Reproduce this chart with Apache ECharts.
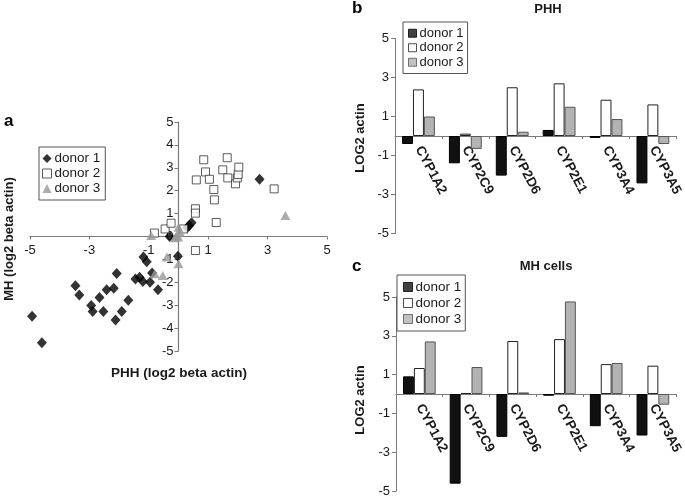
<!DOCTYPE html>
<html><head><meta charset="utf-8">
<script src="https://cdn.jsdelivr.net/npm/echarts@6/dist/echarts.min.js"></script>
<style>html,body{margin:0;padding:0;background:#fff}#c{width:685px;height:498px}</style>
</head><body><div id="c"></div>
<script>
// ---- Panel a: scatter (PHH vs MH, log2 beta actin) ----
const donor1X = [-4.93,-4.6,-3.47,-3.34,-2.94,-2.89,-2.66,-2.53,-2.42,-2.18,-2.08,-2.12,-1.91,-1.69,-1.45,-1.31,-1.2,-1.18,-1.07,-0.96,-0.89,-0.69,-0.3,-0.02,0.29,0.36,0.44,2.73];
const donor1Y = [-3.48,-4.64,-2.15,-2.55,-3.01,-3.28,-2.66,-3.28,-2.33,-2.26,-1.62,-3.65,-3.28,-2.78,-1.86,-1.78,-1.97,-0.9,-1.1,-2.0,-1.59,-2.33,0.0,-0.86,0.38,0.48,0.6,2.5];
const donor2X = [-0.81,-0.45,-0.25,0.17,0.57,0.57,0.57,0.6,0.85,0.91,1.04,1.19,1.21,1.27,1.49,1.64,1.66,1.92,1.98,2.01,2.03,3.22];
const donor2Y = [0.15,0.33,0.58,0.33,-0.61,1.21,1.02,2.47,3.35,2.82,2.5,2.05,1.6,0.61,2.91,3.44,2.56,2.3,2.56,2.71,3.03,2.08];
const donor3X = [-0.92,-0.39,-0.8,-0.53,0.0,-0.12,-0.06,-0.01,0.05,0.0,3.6];
const donor3Y = [0.04,-0.9,-1.63,-1.7,-1.19,-0.05,0.05,-0.02,0.2,0.4,0.92];
const scatterXTicks = [-5,-3,-1,1,3,5];
const scatterYTicks = [-5,-4,-3,-2,-1,0,1,2,3,4,5];

// ---- Panels b, c: bars ----
const genes = ['CYP1A2','CYP2C9','CYP2D6','CYP2E1','CYP3A4','CYP3A5'];
const phhDonor1 = [-0.41,-1.4,-2.03,0.31,-0.1,-2.43];
const phhDonor2 = [2.39,0.12,2.5,2.7,1.86,1.62];
const phhDonor3 = [1.0,-0.66,0.22,1.5,0.87,-0.41];
const mhDonor1 = [0.91,-4.62,-2.21,-0.09,-1.66,-2.14];
const mhDonor2 = [1.34,0.05,2.73,2.83,1.54,1.46];
const mhDonor3 = [2.71,1.39,0.08,4.77,1.6,-0.55];
const barTicks = [-5,-3,-1,1,3,5];
const donorNames = ['donor 1','donor 2','donor 3'];

const FONT = 'Liberation Sans, Arial, sans-serif';
const AXIS = '#7a7a7a';
const TXT = '#1a1a1a';

const G0 = {left:30, top:122, width:297, height:229};
const G1 = {left:395, top:38.5, width:283, height:195};
const G2 = {left:396, top:297, width:282, height:194};

function zip(xs, ys){ return xs.map((x,i)=>[x, ys[i]]); }

const chart = echarts.init(document.getElementById('c'), null, {renderer:'canvas'});

const barStyles = [
  {color:'#111', borderColor:'#000', borderWidth:1},
  {color:'#fff', borderColor:'#222', borderWidth:1},
  {color:'#b3b3b3', borderColor:'#555', borderWidth:1}
];

function valueYAxis(gi){
  return {
    type:'value', gridIndex:gi, min:barTicks[0], max:barTicks[barTicks.length-1], interval:2,
    axisLine:{show:true, onZero:false, lineStyle:{color:AXIS, width:1}},
    axisTick:{show:true, length:4, lineStyle:{color:AXIS}},
    axisLabel:{color:TXT, fontSize:13, fontFamily:FONT, margin:6},
    splitLine:{show:false}
  };
}
function catXAxis(gi, g){
  return {
    type:'category', gridIndex:gi, data:genes, position:'bottom', offset:-g.height/2,
    axisLine:{show:true, onZero:false, lineStyle:{color:AXIS, width:1}},
    axisTick:{show:true, length:3, lineStyle:{color:AXIS}},
    axisLabel:{color:TXT, fontSize:13.5, fontWeight:'bold', fontFamily:FONT, rotate:-62, margin:11, interval:0},
    splitLine:{show:false}
  };
}

const option = {
  animation:false,
  backgroundColor:'#fff',
  textStyle:{fontFamily:FONT},
  grid:[
    Object.assign({containLabel:false}, G0),
    Object.assign({containLabel:false}, G1),
    Object.assign({containLabel:false}, G2)
  ],
  xAxis:[
    {type:'value', gridIndex:0, min:scatterXTicks[0], max:scatterXTicks[scatterXTicks.length-1], interval:2,
     position:'bottom', offset:-G0.height/2,
     axisLine:{show:true, onZero:false, lineStyle:{color:AXIS, width:1.2}},
     axisTick:{show:true, length:3, lineStyle:{color:AXIS}},
     axisLabel:{color:TXT, fontSize:13, fontFamily:FONT, margin:7},
     splitLine:{show:false}},
    catXAxis(1, G1), catXAxis(2, G2)
  ],
  yAxis:[
    {type:'value', gridIndex:0, min:scatterYTicks[0], max:scatterYTicks[scatterYTicks.length-1], interval:1,
     position:'left', offset:-G0.width/2,
     axisLine:{show:true, onZero:false, lineStyle:{color:AXIS, width:1.2}},
     axisTick:{show:true, length:4, lineStyle:{color:AXIS}},
     axisLabel:{color:TXT, fontSize:13, fontFamily:FONT, margin:5},
     splitLine:{show:false}},
    valueYAxis(1), valueYAxis(2)
  ],
  legend:[
    {left:39, top:147, orient:'vertical', itemGap:0, itemWidth:9, itemHeight:9, padding:[4,5,4,3],
     borderColor:'#555', borderWidth:1, backgroundColor:'#fff',
     textStyle:{fontSize:13.5, color:TXT, fontFamily:FONT, lineHeight:15, padding:[0,0,0,-2]},
     data:[
       {name:'donor 1', icon:'diamond', itemStyle:{color:'#000', borderWidth:0}},
       {name:'donor 2', icon:'rect', itemStyle:{color:'#fff', borderColor:'#333', borderWidth:1}},
       {name:'donor 3', icon:'triangle', itemStyle:{color:'#999', borderWidth:0}}
     ]},
    {left:403, top:22, orient:'vertical', itemGap:0, itemWidth:8, itemHeight:8, padding:[4,4,4,5],
     borderColor:'#555', borderWidth:1, backgroundColor:'#fff',
     textStyle:{fontSize:13, color:TXT, fontFamily:FONT, lineHeight:14.5, padding:[0,0,0,-2]},
     data:donorNames.map((n,i)=>({name:n, icon:'rect', itemStyle:Object.assign({}, barStyles[i])}))},
    {left:397, top:275, orient:'vertical', itemGap:0, itemWidth:9, itemHeight:9, padding:[4,4,4,6],
     borderColor:'#555', borderWidth:1, backgroundColor:'#fff',
     textStyle:{fontSize:13.5, color:TXT, fontFamily:FONT, lineHeight:16, padding:[0,0,0,-2]},
     data:donorNames.map((n,i)=>({name:n, icon:'rect', itemStyle:Object.assign({}, barStyles[i])}))}
  ],
  graphic:[
    {type:'text', left:4, top:113, style:{text:'a', font:'bold 17px '+FONT, fill:'#000'}},
    {type:'text', left:352, top:0, style:{text:'b', font:'bold 17px '+FONT, fill:'#000'}},
    {type:'text', left:352, top:258, style:{text:'c', font:'bold 17px '+FONT, fill:'#000'}},
    {type:'text', x:548, y:9, style:{text:'PHH', font:'bold 13px '+FONT, fill:TXT, align:'center', verticalAlign:'middle'}},
    {type:'text', x:546, y:266, style:{text:'MH cells', font:'bold 13px '+FONT, fill:TXT, align:'center', verticalAlign:'middle'}},
    {type:'text', x:179, y:373, style:{text:'PHH (log2 beta actin)', font:'bold 13.5px '+FONT, fill:TXT, align:'center', verticalAlign:'middle'}},
    {type:'text', x:9, y:239, rotation:Math.PI/2, style:{text:'MH (log2 beta actin)', font:'bold 13px '+FONT, fill:TXT, align:'center', verticalAlign:'middle'}},
    {type:'text', x:360, y:138, rotation:Math.PI/2, style:{text:'LOG2 actin', font:'bold 13px '+FONT, fill:TXT, align:'center', verticalAlign:'middle'}},
    {type:'text', x:360, y:400, rotation:Math.PI/2, style:{text:'LOG2 actin', font:'bold 13px '+FONT, fill:TXT, align:'center', verticalAlign:'middle'}}
  ],
  series:[
    {name:'donor 1', type:'scatter', xAxisIndex:0, yAxisIndex:0, symbol:'diamond', symbolSize:[10,11],
     itemStyle:{color:'#000'}, data:zip(donor1X, donor1Y)},
    {name:'donor 2', type:'scatter', xAxisIndex:0, yAxisIndex:0, symbol:'rect', symbolSize:8,
     itemStyle:{color:'#fff', borderColor:'#333', borderWidth:1}, data:zip(donor2X, donor2Y)},
    {name:'donor 3', type:'scatter', xAxisIndex:0, yAxisIndex:0, symbol:'triangle', symbolSize:[10,9],
     itemStyle:{color:'#999'}, data:zip(donor3X, donor3Y)},

    {name:'donor 1', type:'bar', xAxisIndex:1, yAxisIndex:1, barGap:'0%', barCategoryGap:'30%', itemStyle:barStyles[0], data:phhDonor1},
    {name:'donor 2', type:'bar', xAxisIndex:1, yAxisIndex:1, barGap:'0%', barCategoryGap:'30%', itemStyle:barStyles[1], data:phhDonor2},
    {name:'donor 3', type:'bar', xAxisIndex:1, yAxisIndex:1, barGap:'0%', barCategoryGap:'30%', itemStyle:barStyles[2], data:phhDonor3},

    {name:'donor 1', type:'bar', xAxisIndex:2, yAxisIndex:2, barGap:'0%', barCategoryGap:'30%', itemStyle:barStyles[0], data:mhDonor1},
    {name:'donor 2', type:'bar', xAxisIndex:2, yAxisIndex:2, barGap:'0%', barCategoryGap:'30%', itemStyle:barStyles[1], data:mhDonor2},
    {name:'donor 3', type:'bar', xAxisIndex:2, yAxisIndex:2, barGap:'0%', barCategoryGap:'30%', itemStyle:barStyles[2], data:mhDonor3}
  ]
};
chart.setOption(option);
</script>
</body></html>
